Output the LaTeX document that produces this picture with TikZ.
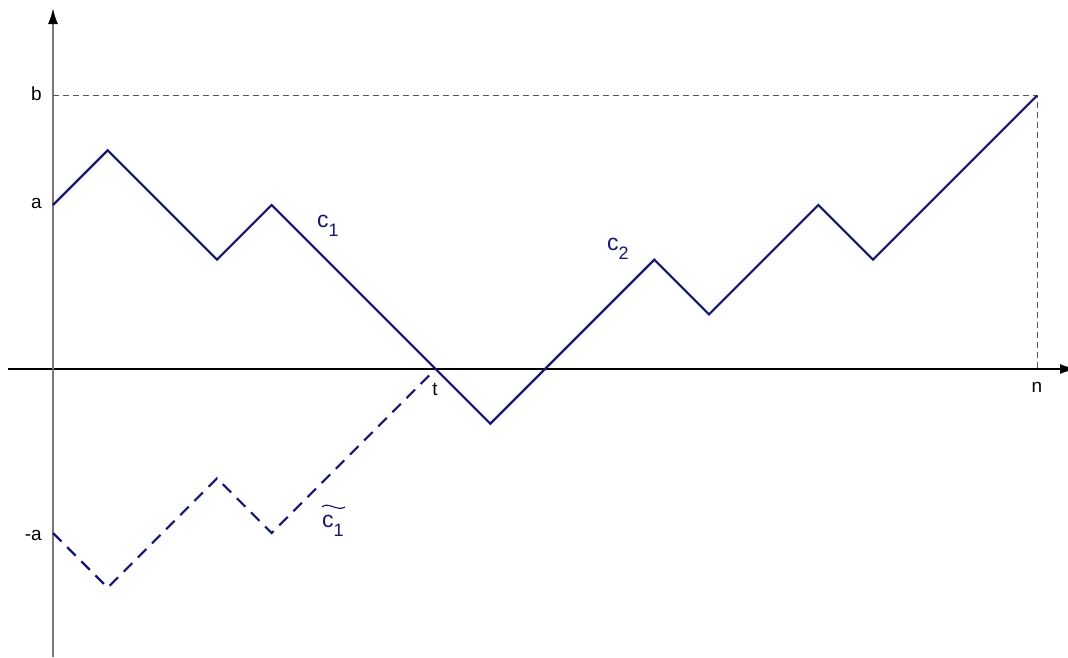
\documentclass[tikz,border=0pt]{standalone}
\usepackage{fontspec}
\setmainfont{Liberation Sans}
\usetikzlibrary{arrows.meta,calc}
\definecolor{pathblue}{RGB}{22,22,112}
\definecolor{axgray}{RGB}{120,120,120}
\definecolor{guidegray}{RGB}{85,85,85}
\tikzset{
  walk/.style={draw=pathblue, line width=2.2pt, line join=miter},
  refl/.style={draw=pathblue, line width=2.2pt, dash pattern=on 12pt off 8pt},
  guide/.style={draw=guidegray, line width=0.9pt, dash pattern=on 6pt off 4pt},
  axlab/.style={inner sep=0pt, font=\fontsize{19}{19}\selectfont},
  clab/.style={inner sep=0pt, anchor=base west, text=pathblue, font=\fontsize{23}{23}\selectfont},
}
\newcommand{\subone}[1]{\raisebox{-0.42em}{\fontsize{18}{18}\selectfont #1}}
\begin{document}
\begin{tikzpicture}[x=1pt,y=-1pt]
\useasboundingbox (0,0) rectangle (1068,657);
% axes
\coordinate (xs) at (8,369);
\coordinate (xe) at (1076,369);
\coordinate (ys) at (53,657);
\coordinate (ye) at (53,8);
\draw[black, line width=1.1pt, -{Latex[length=16pt,width=10pt]}] (xs) -- (xe);
\draw[axgray, line width=2pt, -{Latex[length=16pt,width=10pt,color=black]}] (ys) -- (ye);
\begin{scope}[shift={(53,369)}, x=54.667pt, y=54.667pt]
  \coordinate (p0) at (0,3);
  \coordinate (p1) at (1,4);
  \coordinate (p2) at (3,2);
  \coordinate (p3) at (4,3);
  \coordinate (t) at (7,0);
  \coordinate (p5) at (8,-1);
  \coordinate (p6) at (11,2);
  \coordinate (p7) at (12,1);
  \coordinate (p8) at (14,3);
  \coordinate (p9) at (15,2);
  \coordinate (pn) at (18,5);
  \coordinate (bb) at (0,5);
  \coordinate (nn) at (18,0);
  \coordinate (q0) at (0,-3);
  \coordinate (q1) at (1,-4);
  \coordinate (q2) at (3,-2);
  \coordinate (q3) at (4,-3);
  \coordinate (te) at (6.9,-0.1);
  \draw[guide] (bb) -- (pn) -- (nn);
  \draw[walk] (p0) -- (p1) -- (p2) -- (p3) -- (t) -- (p5) -- (p6) -- (p7) -- (p8) -- (p9) -- (pn);
  \draw[refl] (q0) -- (q1) -- (q2) -- (q3) -- (te);
\end{scope}
% labels
\node[axlab, anchor=base east] (la) at (42,208) {a};
\node[axlab, anchor=base east] (lb) at (42,100) {b};
\node[axlab, anchor=base east] (lma) at (42,540) {-a};
\node[axlab, anchor=base] (lt) at (435,395) {t};
\node[axlab, anchor=base] (ln) at (1037,392) {n};
\node[clab] (c1) at (317,227) {c\subone{1}};
\node[clab] (c2) at (607,250) {c\subone{2}};
\node[clab] (tc1) at (322,527) {c\subone{1}};
\coordinate (tl) at ($(tc1.base west)+(0,-20)$);
\coordinate (tr) at ($(tc1.base west)+(23,-20)$);
\draw[pathblue, line width=1.1pt] (tl) .. controls +(6,-6) and +(-8,5) .. (tr);
\end{tikzpicture}
\end{document}
